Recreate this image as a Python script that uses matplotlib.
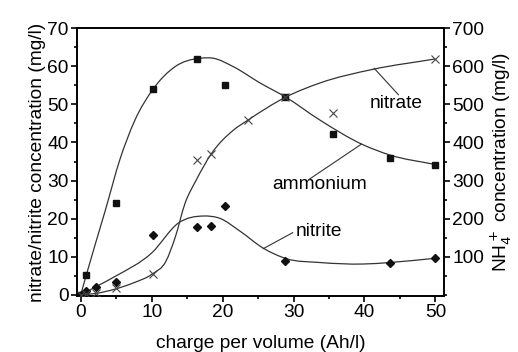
import numpy as np
import matplotlib
matplotlib.use('Agg')
import matplotlib.pyplot as plt
from matplotlib.ticker import MultipleLocator
from matplotlib.path import Path
from matplotlib.patches import PathPatch

plt.rcParams['font.family'] = ['Liberation Sans', 'DejaVu Sans']
plt.rcParams['font.size'] = 13.8

# measured points
x_nitrate = [0, 0.7, 5.0, 10.2, 16.4, 20.4, 28.8, 35.6, 43.6, 49.9]
nitrate = [0, 5.2, 24.2, 54.1, 62.0, 55.0, 52.0, 42.1, 36.0, 34.2]

x_nitrite = [0, 0.7, 2.2, 5.0, 10.2, 16.4, 18.4, 20.4, 28.8, 43.6, 49.9]
nitrite = [0, 1.1, 2.2, 3.5, 15.7, 17.8, 18.1, 23.2, 9.0, 8.5, 9.6]

x_ammonium = [0, 0.7, 2.2, 5.0, 10.2, 16.4, 18.4, 23.6, 28.8, 35.6, 49.9]
ammonium = [0, 2, 5, 18, 55, 354, 370, 459, 520, 477, 618]

# fitted curves
fit_x_nitrate = [0, 0.75, 3.5, 5.5, 7.65, 10.2, 13.3, 16.8, 18.7,
                 21.5, 25.3, 28.9, 33.7, 39.8, 43.6, 50]
fit_nitrate = [0, 5, 22.4, 35.4, 45.9, 54, 59.9, 62.1, 62.1,
               59.9, 55.6, 51.9, 45.9, 39.4, 36.7, 34.2]

fit_x_nitrite = [0, 2.2, 5, 10, 13.8, 17.3, 19.6, 22.4, 25.7,
                 29, 33.7, 39.8, 43.6, 49.9]
fit_nitrite = [0, 2.2, 5.0, 11.0, 18.9, 20.7, 20.1, 16.8, 12.3,
               9.5, 8.5, 8.1, 8.5, 9.6]

fit_x_ammonium = [0, 2.2, 4.8, 7.5, 10.1, 12, 13.3, 14.7, 16.3, 18.4,
                  21.5, 23.6, 28.9, 33.7, 41.2, 49.9]
fit_ammonium = [0, 4, 15, 32, 55, 88, 150, 240, 302, 370,
                432, 459, 519, 556, 592, 619]


def smooth_path(xs, ys):
    # cubic Hermite segments as Bezier curves
    xs = np.asarray(xs, float)
    ys = np.asarray(ys, float)
    m = np.gradient(ys, xs)
    verts = [(xs[0], ys[0])]
    codes = [Path.MOVETO]
    for i in range(len(xs) - 1):
        h = xs[i + 1] - xs[i]
        verts += [(xs[i] + h / 3, ys[i] + m[i] * h / 3),
                  (xs[i + 1] - h / 3, ys[i + 1] - m[i + 1] * h / 3),
                  (xs[i + 1], ys[i + 1])]
        codes += [Path.CURVE4] * 3
    return Path(verts, codes)


fig = plt.figure(figsize=(5.18, 3.52), dpi=100)
ax = fig.add_axes([0.149, 0.159, 0.708, 0.761])
ax2 = ax.twinx()

line_c = '#333333'
ax.add_patch(PathPatch(smooth_path(fit_x_nitrate, fit_nitrate), fill=False, ec=line_c, lw=0.9))
ax.add_patch(PathPatch(smooth_path(fit_x_nitrite, fit_nitrite), fill=False, ec=line_c, lw=0.9))
ax2.add_patch(PathPatch(smooth_path(fit_x_ammonium, fit_ammonium), fill=False, ec=line_c, lw=0.9))

ax.plot(x_nitrate, nitrate, ls='none', marker='s', ms=5, color='#111111', zorder=3)
ax.plot(x_nitrite, nitrite, ls='none', marker='D', ms=4.5, color='#111111', zorder=3)
ax2.plot(x_ammonium, ammonium, ls='none', marker='x', ms=6, mew=0.8, color='#444444', zorder=3)

ax.set_xlim(-0.5, 51.2)
ax.set_ylim(-0.3, 70)
ax2.set_ylim(-3, 700)

ax.xaxis.set_major_locator(MultipleLocator(10))
ax.xaxis.set_minor_locator(MultipleLocator(5))
ax.yaxis.set_major_locator(MultipleLocator(10))
ax.yaxis.set_minor_locator(MultipleLocator(5))
ax2.set_yticks([100, 200, 300, 400, 500, 600, 700])
ax2.yaxis.set_minor_locator(MultipleLocator(50))

for a in (ax, ax2):
    a.tick_params(which='major', direction='out', length=4, width=1.2, pad=2)
    a.tick_params(which='minor', direction='out', length=2.5, width=1.2)
    for s in a.spines.values():
        s.set_linewidth(1.2)

ax.set_xlabel('charge per volume (Ah/l)', labelpad=10)
ax.set_ylabel('nitrate/nitrite concentration (mg/l)', labelpad=1)
ax2.set_ylabel('NH$_4^+$ concentration (mg/l)', labelpad=3)

# labels with leader lines
lead = dict(arrowstyle='-', color=line_c, lw=0.8, shrinkA=0, shrinkB=0)
ax2.text(44.5, 501, 'nitrate', ha='center', va='center')
ax2.annotate('', xy=(41.35, 595), xytext=(44.8, 525), arrowprops=lead)
ax.text(33.7, 28.9, 'ammonium', ha='center', va='center')
ax.annotate('', xy=(39.6, 39.6), xytext=(32.1, 30.2), arrowprops=lead)
ax.text(33.6, 16.6, 'nitrite', ha='center', va='center')
ax.annotate('', xy=(25.7, 12.1), xytext=(29.9, 16.35), arrowprops=lead)

fig.savefig('out.png', dpi=100)
